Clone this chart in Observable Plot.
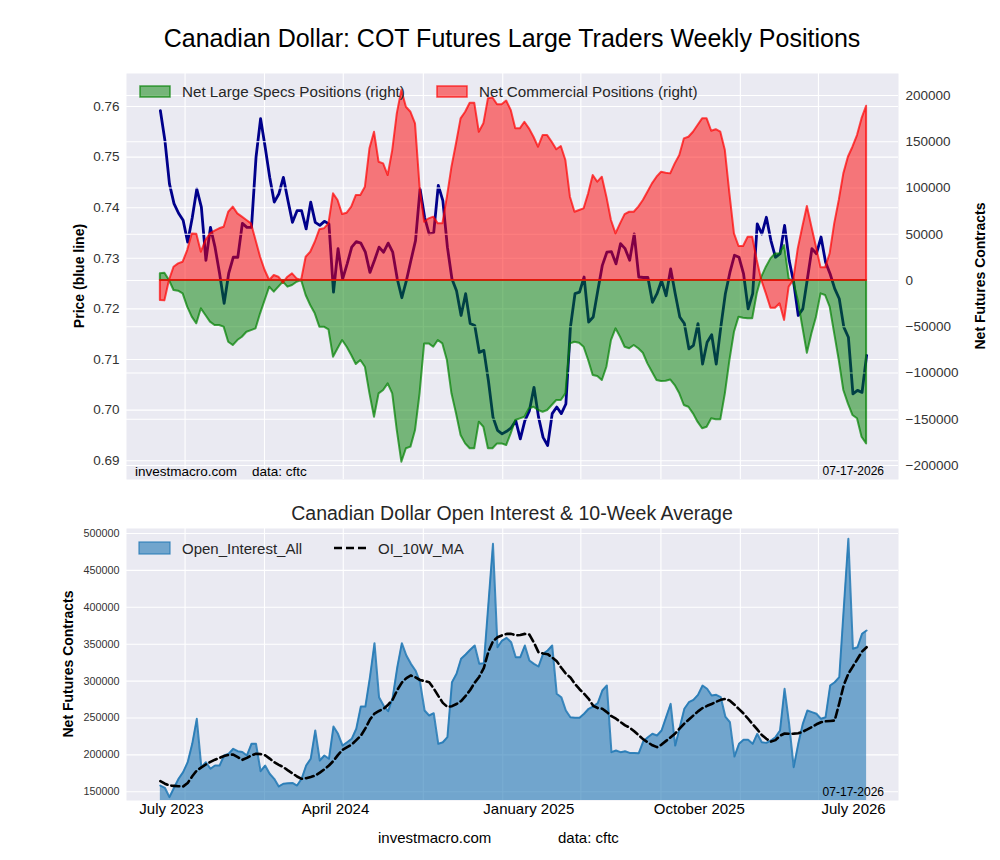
<!DOCTYPE html>
<html>
<head>
<meta charset="utf-8">
<script src="https://cdn.jsdelivr.net/npm/d3@7"></script>
<script src="https://cdn.jsdelivr.net/npm/@observablehq/plot@0.6"></script>
<style>
  body { margin: 0; background: #ffffff; }
  #page { position: relative; width: 1000px; height: 860px; overflow: hidden; background: #ffffff; }
  #page svg { position: absolute; left: 0; }
</style>
</head>
<body>
<div id="page"></div>
<script>
// ---- Weekly COT report data (Canadian Dollar), one value per week ----
const firstWeek = "2023-07-25";

const price = [
  0.7592, 0.7533, 0.7447, 0.7408, 0.7389, 0.7375, 0.7332, 0.7380, 0.7437, 0.7401,
  0.7296, 0.7361, 0.7322, 0.7270, 0.7211, 0.7270, 0.7302, 0.7302, 0.7369, 0.7361,
  0.7361, 0.7500, 0.7576, 0.7520, 0.7460, 0.7411, 0.7427, 0.7460, 0.7414, 0.7371,
  0.7394, 0.7394, 0.7358, 0.7411, 0.7371, 0.7365, 0.7373, 0.7368, 0.7233, 0.7319,
  0.7259, 0.7289, 0.7322, 0.7333, 0.7330, 0.7312, 0.7272, 0.7296, 0.7322, 0.7312,
  0.7330, 0.7312, 0.7259, 0.7222, 0.7256, 0.7296, 0.7335, 0.7437, 0.7381, 0.7348,
  0.7351, 0.7444, 0.7414, 0.7322, 0.7259, 0.7236, 0.7187, 0.7230, 0.7171, 0.7167,
  0.7114, 0.7118, 0.7058, 0.6986, 0.6960, 0.6953, 0.6958, 0.6965, 0.6979, 0.6943,
  0.6979, 0.6999, 0.7045, 0.6986, 0.6946, 0.6930, 0.6993, 0.7006, 0.6993, 0.7012,
  0.7164, 0.7230, 0.7233, 0.7263, 0.7174, 0.7184, 0.7236, 0.7286, 0.7312, 0.7313,
  0.7289, 0.7329, 0.7319, 0.7296, 0.7348, 0.7263, 0.7262, 0.7262, 0.7213, 0.7230,
  0.7256, 0.7226, 0.7279, 0.7230, 0.7184, 0.7171, 0.7121, 0.7128, 0.7171, 0.7091,
  0.7134, 0.7149, 0.7091, 0.7164, 0.7230, 0.7272, 0.7306, 0.7302, 0.7269, 0.7200,
  0.7230, 0.7368, 0.7348, 0.7381, 0.7335, 0.7302, 0.7309, 0.7365, 0.7296, 0.7252,
  0.7187, 0.7200, 0.7259, 0.7319, 0.7309, 0.7342, 0.7292, 0.7269, 0.7240, 0.7220,
  0.7164, 0.7144, 0.7032, 0.7039, 0.7035, 0.7108
];

const netLargeSpecs = [
  7200, 7900, 0, -10800, -11500, -14400, -28800, -39600, -46800, -30600,
  -37800, -45000, -48600, -48600, -50400, -66700, -70300, -64900, -61300, -55900,
  -54100, -52200, -36000, -21600, -7200, -12600, -7200, -1800, -7200, -5400,
  -1800, 0, -16200, -27000, -36000, -50400, -50400, -53300, -82900, -73800,
  -64900, -72100, -81100, -90800, -86500, -93700, -122500, -147800, -122500, -118900,
  -111700, -122500, -162200, -196400, -181900, -180100, -162200, -122500, -68500, -68500,
  -72100, -64900, -68500, -86500, -122500, -144100, -167600, -176600, -181900, -181900,
  -153100, -158600, -181900, -181900, -176600, -176600, -178400, -165700, -151300, -149500,
  -147800, -138700, -137000, -140500, -142400, -140500, -135100, -129700, -129700, -122500,
  -68500, -66700, -67800, -72100, -86500, -102700, -103800, -108100, -93700, -64900,
  -52200, -61300, -72100, -73800, -70300, -73800, -78600, -90100, -99100, -108100,
  -109200, -108900, -107500, -113500, -122500, -135100, -137000, -144100, -153100, -160300,
  -158600, -149500, -150600, -150600, -122500, -86500, -55900, -39600, -40700, -41400,
  -41400, -14400, 3600, 14400, 23400, 28800, 28800, 37800, 1800, -1800,
  -21600, -50400, -78600, -57600, -39600, -14400, -16200, -28800, -57600, -86500,
  -118900, -133300, -145900, -149500, -169400, -176600
];

const netCommercial = [
  -21600, -22000, 0, 14400, 18000, 19800, 32400, 50400, 50000, 30600,
  43200, 50400, 53300, 55900, 57600, 73800, 79300, 72100, 68500, 64900,
  61300, 43200, 25200, 10800, 0, 5400, 3600, -2900, 3600, 7200,
  1800, 0, 25200, 30600, 41400, 54800, 55900, 61300, 93700, 86500,
  71300, 72800, 79300, 91900, 91900, 100900, 142400, 160300, 127900, 126100,
  113500, 140500, 180200, 205400, 187300, 181900, 169400, 100900, 63000, 66700,
  68500, 61300, 61300, 90100, 122500, 147800, 174800, 181900, 191700, 191700,
  160300, 169400, 196400, 197300, 190000, 190000, 194000, 184000, 164000, 164000,
  171100, 164000, 154900, 144100, 156700, 156700, 149500, 141300, 144900, 129700,
  90100, 73800, 75700, 77500, 93700, 113500, 106300, 111700, 90100, 64900,
  50400, 61300, 71300, 73800, 73800, 79300, 86500, 95500, 104500, 111700,
  117100, 116000, 115300, 126100, 135100, 153100, 154900, 160300, 167600, 174800,
  174800, 161400, 163000, 160300, 140500, 93700, 50400, 36800, 36800, 46800,
  46800, 21600, 0, -14400, -29900, -29900, -25200, -43200, -7200, 0,
  34200, 57600, 80000, 57600, 36000, 13700, 13700, 28800, 61300, 86500,
  115300, 133300, 144100, 156700, 175000, 188400
];

const openInterest = [
  158500, 155400, 142700, 155400, 167600, 176600, 190100, 215000, 248900, 183400,
  190100, 181200, 185600, 185600, 199200, 201500, 208300, 205000, 204000, 199200,
  215000, 215000, 177900, 185600, 174400, 167600, 157200, 160900, 161700, 162000,
  158500, 167600, 185600, 194700, 233100, 192400, 199200, 194700, 238500, 228600,
  212700, 217200, 221800, 235400, 265600, 265600, 305300, 351400, 278200, 266900,
  259200, 278200, 318800, 351400, 334700, 323400, 314400, 298500, 260200, 253400,
  256500, 215000, 217200, 224000, 298500, 309900, 330200, 336000, 342400, 348200,
  323400, 324300, 405000, 486000, 345900, 355000, 358600, 352700, 332400, 332400,
  348200, 327900, 323400, 319800, 337000, 341500, 348200, 282800, 278200, 260200,
  251100, 250200, 250200, 255700, 262500, 265600, 270100, 287300, 294000, 203700,
  206000, 203700, 205000, 202700, 202700, 202300, 218600, 224000, 228600, 226300,
  233100, 251100, 269200, 212700, 237600, 262500, 271400, 274600, 281400, 294000,
  289600, 280500, 281400, 278200, 252000, 244300, 197800, 215000, 220400, 220400,
  215000, 228600, 217200, 216300, 219500, 224000, 233100, 289600, 242100, 183400,
  215000, 242100, 260200, 257900, 255700, 248900, 251100, 294000, 298500, 305300,
  400000, 492800, 343800, 345900, 364100, 368500
];

const oi10WeekAvg = [
  164400, 161000, 158500, 158000, 157500, 157200, 162000, 171000, 178900, 183000,
  187000, 190500, 193500, 196000, 198500, 200000, 200500, 197000, 193300, 196000,
  199500, 201500, 201000, 199500, 195000, 190000, 186500, 183400, 179000, 175000,
  170700, 167600, 168500, 170000, 172000, 176000, 180500, 185600, 192000, 200000,
  207000, 210500, 214000, 220000, 226000, 236000, 248000, 256000, 259500, 262500,
  268000, 275000, 288000, 298000, 304000, 307600, 305000, 301500, 300000, 298500,
  290000, 280000, 270500, 265000, 266000, 269000, 273000, 280000, 288000, 298000,
  306000, 318000, 340000, 354000, 359500, 362000, 364000, 364000, 362000, 362500,
  364000, 363000, 352000, 339000, 337500, 336500, 332000, 327000, 318000, 310000,
  305000, 296000, 289000, 282800, 276000, 266500, 263500, 262500, 258000, 252500,
  249000, 244500, 240000, 237000, 232000, 226500, 221000, 217000, 213000, 210500,
  214000, 219000, 224000, 229000, 236000, 242500, 248000, 253500, 259000, 263500,
  266500, 269000, 272000, 274600, 275900, 273500, 268000, 262000, 256000, 249000,
  241500, 234500, 227000, 221800, 218000, 220000, 226000, 229000, 228600, 228800,
  229300, 231500, 234500, 237800, 241500, 244300, 245500, 246000, 246600, 270000,
  295000, 310000, 320000, 330000, 340000, 345900
];

// ---- Axis ticks, grid dates and labels ----
const xDomainDates = ["2023-06-03", "2026-09-01"];
const gridDates = ["2023-09-01", "2024-01-01", "2024-05-01", "2024-09-01", "2025-01-01",
                   "2025-05-01", "2025-09-01", "2026-01-01", "2026-05-01"];
const xLabelDates = ["2023-08-11", "2024-04-19", "2025-02-10", "2025-10-30", "2026-06-24"];
const xLabelNames = ["July 2023", "April 2024", "January 2025", "October 2025", "July 2026"];
const priceTicks = [0.69, 0.70, 0.71, 0.72, 0.73, 0.74, 0.75, 0.76];
const netTicks = [-200000, -150000, -100000, -50000, 0, 50000, 100000, 150000, 200000];
const oiTicks = [150000, 200000, 250000, 300000, 350000, 400000, 450000, 500000];
const priceDomain = [0.68628, 0.76652];
const netDomain = [-215100, 223800];
const oiDomain = [138200, 506800];
const reportDate = "07-17-2026";

// ---- Build the table ----
const rows = price.map((p, i) => ({
  date: d3.utcDay.offset(new Date(firstWeek), 7 * i),
  price: p,
  specs: netLargeSpecs[i],
  comm: netCommercial[i],
  oi: openInterest[i],
  ma: oi10WeekAvg[i]
}));
const xDom = xDomainDates.map(s => new Date(s));
const grid = gridDates.map(s => new Date(s));
const xLabels = xLabelDates.map((s, i) => ({date: new Date(s), label: xLabelNames[i]}));

const FONT = '"Liberation Sans", Arial, Helvetica, sans-serif';
const BG = "#EAEAF2";
const page = document.getElementById("page");

const topFrame = {width: 1000, height: 500, marginTop: 73, marginBottom: 21, marginLeft: 126, marginRight: 102};

// Price line (left axis) with the panel background and grid
const priceChart = Plot.plot({
  ...topFrame,
  style: {fontFamily: FONT, fontSize: "13.5px", color: "#333", background: "transparent"},
  x: {type: "utc", domain: xDom, axis: null},
  y: {domain: priceDomain, ticks: priceTicks, tickFormat: d3.format(".2f"), tickSize: 0, tickPadding: 7, label: null},
  marks: [
    Plot.frame({fill: BG, stroke: "none"}),
    Plot.ruleX(grid, {stroke: "white", strokeWidth: 1.1}),
    Plot.ruleY(priceTicks, {stroke: "white", strokeWidth: 1.1}),
    Plot.line(rows, {x: "date", y: "price", stroke: "#00008b", strokeWidth: 2.8})
  ]
});

// Net positions areas (right axis), layered over the price line
const netChart = Plot.plot({
  ...topFrame,
  style: {fontFamily: FONT, fontSize: "13.5px", color: "#333", background: "transparent"},
  x: {type: "utc", domain: xDom, axis: null},
  y: {domain: netDomain, axis: "right", ticks: netTicks, tickFormat: d3.format("d"), tickSize: 0, tickPadding: 7, label: null},
  marks: [
    Plot.ruleY(netTicks, {stroke: "white", strokeWidth: 1.1}),
    Plot.areaY(rows, {x: "date", y1: 0, y2: "specs", fill: "green", fillOpacity: 0.5, stroke: "green", strokeOpacity: 0.7, strokeWidth: 2}),
    Plot.areaY(rows, {x: "date", y1: 0, y2: "comm", fill: "red", fillOpacity: 0.5, stroke: "red", strokeOpacity: 0.7, strokeWidth: 2})
  ]
});

// Open interest with its 10-week average
const oiChart = Plot.plot({
  width: 1000, height: 360, marginTop: 28, marginBottom: 60, marginLeft: 126, marginRight: 102,
  style: {fontFamily: FONT, fontSize: "10.8px", color: "#333", background: "transparent"},
  x: {type: "utc", domain: xDom, axis: null},
  y: {domain: oiDomain, ticks: oiTicks, tickFormat: d3.format("d"), tickSize: 0, tickPadding: 7, label: null},
  marks: [
    Plot.frame({fill: BG, stroke: "none"}),
    Plot.ruleX(grid, {stroke: "white", strokeWidth: 1.1}),
    Plot.ruleY(oiTicks, {stroke: "white", strokeWidth: 1.1}),
    Plot.areaY(rows, {x: "date", y1: oiDomain[0], y2: "oi", fill: "#1f77b4", fillOpacity: 0.6}),
    Plot.line(rows, {x: "date", y: "oi", stroke: "#1f77b4", strokeOpacity: 0.85, strokeWidth: 2}),
    Plot.line(rows, {x: "date", y: "ma", stroke: "black", strokeWidth: 2.6, strokeDasharray: "8,4"}),
    Plot.text(xLabels, {x: "date", frameAnchor: "bottom", text: "label", dy: 13, fontSize: 15, fill: "black"})
  ]
});

priceChart.style.top = "0px";
netChart.style.top = "0px";
oiChart.style.top = "500px";
page.appendChild(priceChart);
page.appendChild(netChart);
page.appendChild(oiChart);

// ---- Titles, legends, axis titles and notes ----
const ann = d3.select(page).append("svg")
  .attr("width", 1000).attr("height", 860)
  .style("top", "0px").style("pointer-events", "none")
  .attr("font-family", FONT);

function label(x, y, s, size, opts = {}) {
  const t = ann.append("text").attr("x", x).attr("y", y).attr("font-size", size)
    .attr("fill", opts.fill || "#000").attr("text-anchor", opts.anchor || "start").text(s);
  if (opts.bold) t.attr("font-weight", "bold");
  if (opts.rotate) t.attr("transform", `rotate(-90 ${x} ${y})`);
  return t;
}

label(512, 47, "Canadian Dollar: COT Futures Large Traders Weekly Positions", 25, {anchor: "middle"});
label(512, 520, "Canadian Dollar Open Interest & 10-Week Average", 19.5, {anchor: "middle", fill: "#262626"});

// top legend
ann.append("rect").attr("x", 140).attr("y", 86).attr("width", 30).attr("height", 11)
  .attr("fill", "green").attr("fill-opacity", 0.5).attr("stroke", "green").attr("stroke-opacity", 0.7).attr("stroke-width", 1.5);
label(182, 96.5, "Net Large Specs Positions (right)", 15.2, {fill: "#262626"});
ann.append("rect").attr("x", 437).attr("y", 86).attr("width", 30).attr("height", 11)
  .attr("fill", "red").attr("fill-opacity", 0.5).attr("stroke", "red").attr("stroke-opacity", 0.7).attr("stroke-width", 1.5);
label(479, 96.5, "Net Commercial Positions (right)", 15.2, {fill: "#262626"});

// bottom legend
ann.append("rect").attr("x", 139).attr("y", 542).attr("width", 31).attr("height", 12)
  .attr("fill", "#1f77b4").attr("fill-opacity", 0.6).attr("stroke", "#1f77b4").attr("stroke-opacity", 0.8).attr("stroke-width", 1.2);
label(182, 553.5, "Open_Interest_All", 15, {fill: "#262626"});
ann.append("line").attr("x1", 334).attr("x2", 366).attr("y1", 548).attr("y2", 548)
  .attr("stroke", "black").attr("stroke-width", 2.6).attr("stroke-dasharray", "8,4");
label(378, 553.5, "OI_10W_MA", 15, {fill: "#262626"});

// axis titles
label(84, 276, "Price (blue line)", 14, {bold: true, rotate: true, anchor: "middle"});
label(985, 276, "Net Futures Contracts", 14, {bold: true, rotate: true, anchor: "middle"});
label(73, 664, "Net Futures Contracts", 14, {bold: true, rotate: true, anchor: "middle"});

// notes
label(135, 476, "investmacro.com", 13.5);
label(252, 476, "data: cftc", 13.5);
label(884, 475, reportDate, 12, {anchor: "end"});
label(884, 796, reportDate, 12, {anchor: "end"});
label(378, 843, "investmacro.com", 15);
label(558, 843, "data: cftc", 15);
</script>
</body>
</html>
